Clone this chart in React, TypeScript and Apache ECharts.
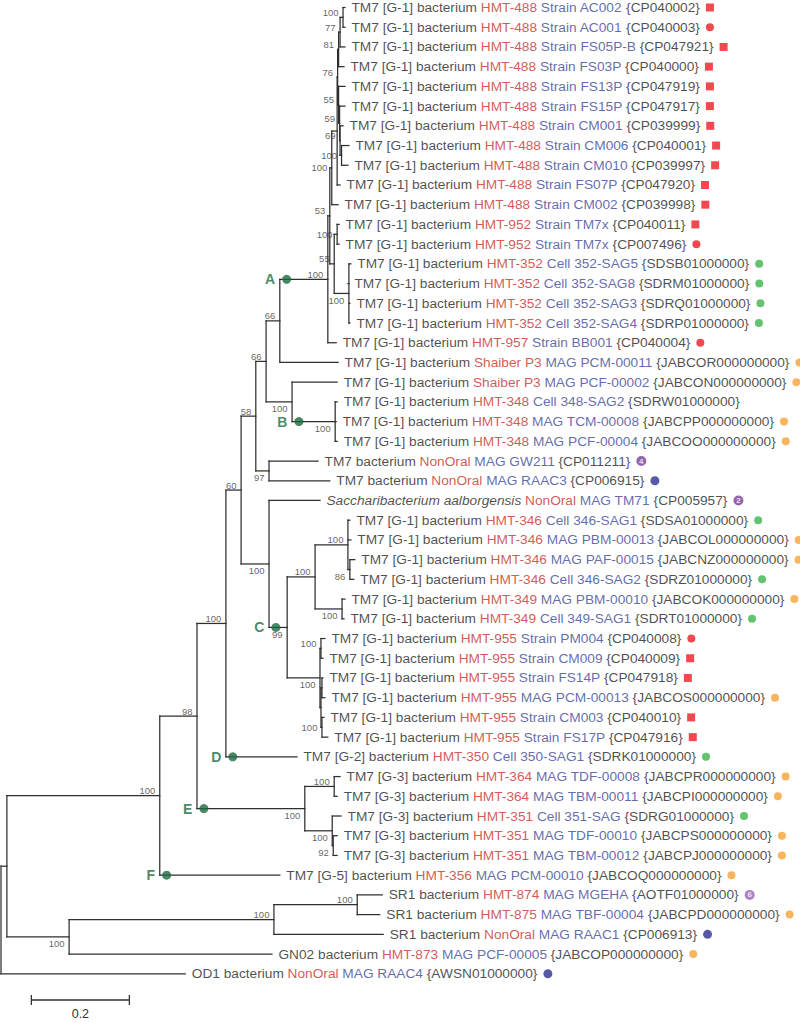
import React, { useEffect, useRef } from 'react';
import * as echarts from 'echarts';

// ---------- DATA ----------
// leaves, top to bottom: [organism, source, isolate, accession, marker, parentNode, tipDepth]
const leaves: [string, string, string, string, string, string, number][] = [
  ['TM7 [G-1] bacterium', 'HMT-488', 'Strain AC002', '{CP040002}', 'rs', 'P1', 0.702],
  ['TM7 [G-1] bacterium', 'HMT-488', 'Strain AC001', '{CP040003}', 'rc', 'P1', 0.702],
  ['TM7 [G-1] bacterium', 'HMT-488', 'Strain FS05P-B', '{CP047921}', 'rs', 'P2', 0.702],
  ['TM7 [G-1] bacterium', 'HMT-488', 'Strain FS03P', '{CP040000}', 'rs', 'P3', 0.700],
  ['TM7 [G-1] bacterium', 'HMT-488', 'Strain FS13P', '{CP047919}', 'rs', 'X3', 0.702],
  ['TM7 [G-1] bacterium', 'HMT-488', 'Strain FS15P', '{CP047917}', 'rs', 'X2', 0.702],
  ['TM7 [G-1] bacterium', 'HMT-488', 'Strain CM001', '{CP039999}', 'rs', 'X1', 0.698],
  ['TM7 [G-1] bacterium', 'HMT-488', 'Strain CM006', '{CP040001}', 'rs', 'R1', 0.710],
  ['TM7 [G-1] bacterium', 'HMT-488', 'Strain CM010', '{CP039997}', 'rs', 'R1', 0.708],
  ['TM7 [G-1] bacterium', 'HMT-488', 'Strain FS07P', '{CP047920}', 'rs', 'X5', 0.692],
  ['TM7 [G-1] bacterium', 'HMT-488', 'Strain CM002', '{CP039998}', 'rs', 'T', 0.688],
  ['TM7 [G-1] bacterium', 'HMT-952', 'Strain TM7x', '{CP040011}', 'rs', 'N337', 0.690],
  ['TM7 [G-1] bacterium', 'HMT-952', 'Strain TM7x', '{CP007496}', 'rc', 'N337', 0.690],
  ['TM7 [G-1] bacterium', 'HMT-352', 'Cell 352-SAG5', '{SDSB01000000}', 'g', 'N349', 0.714],
  ['TM7 [G-1] bacterium', 'HMT-352', 'Cell 352-SAG8', '{SDRM01000000}', 'g', 'N349', 0.708],
  ['TM7 [G-1] bacterium', 'HMT-352', 'Cell 352-SAG3', '{SDRQ01000000}', 'g', 'N349', 0.712],
  ['TM7 [G-1] bacterium', 'HMT-352', 'Cell 352-SAG4', '{SDRP01000000}', 'g', 'N349', 0.712],
  ['TM7 [G-1] bacterium', 'HMT-957', 'Strain BB001', '{CP040004}', 'rc', 'N329', 0.684],
  ['TM7 [G-1] bacterium', 'Shaiber P3', 'MAG PCM-00011', '{JABCOR000000000}', 'o', 'N280', 0.688],
  ['TM7 [G-1] bacterium', 'Shaiber P3', 'MAG PCF-00002', '{JABCON000000000}', 'o', 'N292', 0.686],
  ['TM7 [G-1] bacterium', 'HMT-348', 'Cell 348-SAG2', '{SDRW01000000}', '', 'B', 0.686],
  ['TM7 [G-1] bacterium', 'HMT-348', 'MAG TCM-00008', '{JABCPP000000000}', 'o', 'B', 0.684],
  ['TM7 [G-1] bacterium', 'HMT-348', 'MAG PCF-00004', '{JABCOO000000000}', 'o', 'B', 0.686],
  ['TM7 bacterium', 'NonOral', 'MAG GW211', '{CP011211}', 'p4', 'N269b', 0.647],
  ['TM7 bacterium', 'NonOral', 'MAG RAAC3', '{CP006915}', 'b', 'N269b', 0.671],
  ['Saccharibacterium aalborgensis', 'NonOral', 'MAG TM71', '{CP005957}', 'p2', 'N269', 0.651],
  ['TM7 [G-1] bacterium', 'HMT-346', 'Cell 346-SAG1', '{SDSA01000000}', 'g', 'N348', 0.712],
  ['TM7 [G-1] bacterium', 'HMT-346', 'MAG PBM-00013', '{JABCOL000000000}', 'o', 'N348', 0.714],
  ['TM7 [G-1] bacterium', 'HMT-346', 'MAG PAF-00015', '{JABCNZ000000000}', 'o', 'N350', 0.722],
  ['TM7 [G-1] bacterium', 'HMT-346', 'Cell 346-SAG2', '{SDRZ01000000}', 'g', 'N350', 0.720],
  ['TM7 [G-1] bacterium', 'HMT-349', 'MAG PBM-00010', '{JABCOK000000000}', 'o', 'N342', 0.702],
  ['TM7 [G-1] bacterium', 'HMT-349', 'Cell 349-SAG1', '{SDRT01000000}', 'g', 'N342', 0.700],
  ['TM7 [G-1] bacterium', 'HMT-955', 'Strain PM004', '{CP040008}', 'rc', 'Y1', 0.661],
  ['TM7 [G-1] bacterium', 'HMT-955', 'Strain CM009', '{CP040009}', 'rs', 'Y1', 0.657],
  ['TM7 [G-1] bacterium', 'HMT-955', 'Strain FS14P', '{CP047918}', 'rs', 'Z1', 0.657],
  ['TM7 [G-1] bacterium', 'HMT-955', 'MAG PCM-00013', '{JABCOS000000000}', 'o', 'Z1', 0.661],
  ['TM7 [G-1] bacterium', 'HMT-955', 'Strain CM003', '{CP040010}', 'rs', 'Z2', 0.659],
  ['TM7 [G-1] bacterium', 'HMT-955', 'Strain FS17P', '{CP047916}', 'rs', 'Z2', 0.667],
  ['TM7 [G-2] bacterium', 'HMT-350', 'Cell 350-SAG1', '{SDRK01000000}', 'g', 'N226', 0.604],
  ['TM7 [G-3] bacterium', 'HMT-364', 'MAG TDF-00008', '{JABCPR000000000}', 'o', 'N333', 0.692],
  ['TM7 [G-3] bacterium', 'HMT-364', 'MAG TBM-00011', '{JABCPI000000000}', 'o', 'N333', 0.686],
  ['TM7 [G-3] bacterium', 'HMT-351', 'Cell 351-SAG', '{SDRG01000000}', 'g', 'N332', 0.694],
  ['TM7 [G-3] bacterium', 'HMT-351', 'MAG TDF-00010', '{JABCPS000000000}', 'o', 'N333b', 0.686],
  ['TM7 [G-3] bacterium', 'HMT-351', 'MAG TBM-00012', '{JABCPJ000000000}', 'o', 'N333b', 0.686],
  ['TM7 [G-5] bacterium', 'HMT-356', 'MAG PCM-00010', '{JABCOQ000000000}', 'o', 'N160', 0.569],
  ['SR1 bacterium', 'HMT-874', 'MAG MGEHA', '{AOTF01000000}', 'p6', 'N357', 0.778],
  ['SR1 bacterium', 'HMT-875', 'MAG TBF-00004', '{JABCPD000000000}', 'o', 'N357', 0.773],
  ['SR1 bacterium', 'NonOral', 'MAG RAAC1', '{CP006913}', 'b', 'N274', 0.780],
  ['GN02 bacterium', 'HMT-873', 'MAG PCF-00005', '{JABCOP000000000}', 'o', 'N69', 0.553],
  ['OD1 bacterium', 'NonOral', 'MAG RAAC4', '{AWSN01000000}', 'b', 'R', 0.376],
];

// internal nodes: [id, parent, depth (subst./site), bootstrap]
const nodes: [string, string | null, number, string][] = [
  ['R', null, 0, ''],
  ['N7', 'R', 0.012, ''],
  ['N69', 'N7', 0.139, '100'],
  ['N274', 'N69', 0.557, '100'],
  ['N357', 'N274', 0.727, '100'],
  ['N160', 'N7', 0.324, '100'],
  ['N197', 'N160', 0.400, '98'],
  ['N226', 'N197', 0.459, '100'],
  ['N241', 'N226', 0.490, '60'],
  ['N256', 'N241', 0.520, '58'],
  ['N266', 'N256', 0.541, '66'],
  ['N280', 'N266', 0.569, '66'],
  ['N329', 'N280', 0.667, '100'],
  ['N330', 'N329', 0.671, '53'],
  ['T', 'N330', 0.675, '100'],
  ['X5', 'T', 0.686, ''],
  ['X4', 'X5', 0.687, '76'],
  ['P3', 'X4', 0.689, '81'],
  ['P2', 'P3', 0.692, '77'],
  ['P1', 'P2', 0.698, '100'],
  ['X3', 'X4', 0.689, '55'],
  ['X2', 'X3', 0.691, '59'],
  ['X1', 'X2', 0.692, '69'],
  ['R1', 'X1', 0.695, '100'],
  ['N335', 'N330', 0.680, '55'],
  ['N337', 'N335', 0.686, '100'],
  ['N349', 'N335', 0.710, '100'],
  ['N292', 'N266', 0.594, '100'],
  ['B', 'N292', 0.682, '100'],
  ['N269b', 'N256', 0.547, '97'],
  ['N269', 'N241', 0.547, '100'],
  ['N287', 'N269', 0.584, '99'],
  ['N315', 'N287', 0.641, '100'],
  ['N348', 'N315', 0.708, '100'],
  ['N350', 'N348', 0.712, '86'],
  ['N342', 'N315', 0.696, '100'],
  ['N320', 'N287', 0.651, '100'],
  ['Y1', 'N320', 0.653, '100'],
  ['Z', 'N320', 0.653, ''],
  ['Z1', 'Z', 0.655, ''],
  ['Z2', 'Z', 0.655, '100'],
  ['N305', 'N197', 0.620, '100'],
  ['N333', 'N305', 0.680, '100'],
  ['N332', 'N305', 0.676, '100'],
  ['N333b', 'N332', 0.678, '92'],
];

// clade letters: [letter, node whose stem carries the dot]
const clades: [string, string][] = [
  ['A', 'N329'], ['B', 'B'], ['C', 'N287'], ['D', 'L38'], ['E', 'N305'], ['F', 'L44'],
];

const italicOrganisms = ['Saccharibacterium aalborgensis'];
const scaleBar = { start: 0.062, length: 0.2, row: 50.33 };

// ---------- STYLE (label placement around nodes) ----------
const supportBelow = ['N69', 'N349', 'N292', 'B', 'N269b', 'N269', 'N287', 'N350', 'N342', 'N320', 'N305', 'N332', 'N333b'];
const supportMiddle = ['R1', 'N337', 'Z2', 'T'];
const FONT = '"Liberation Sans", Arial, Helvetica, sans-serif';
const GREEN = '#1b6a3e';
const CLEAR = 'rgba(0,0,0,0)';
const LEAF_FONT = 13.7;

function buildOption() {
  type N = { id: string; parent: string | null; depth: number; support: string; y?: number; children: string[] };
  const map: Record<string, N> = {};
  nodes.forEach(([id, parent, depth, support]) => { map[id] = { id, parent, depth, support, children: [] }; });
  leaves.forEach((l, i) => { map['L' + i] = { id: 'L' + i, parent: l[5], depth: l[6], support: '', y: i, children: [] }; });
  Object.values(map).forEach((n) => { if (n.parent) map[n.parent].children.push(n.id); });
  const layoutY = (id: string): number => {
    const n = map[id];
    if (n.y !== undefined) return n.y;
    const ys = n.children.map(layoutY);
    n.y = (Math.min(...ys) + Math.max(...ys)) / 2;
    return n.y;
  };
  layoutY('R');

  const edges: number[][] = [];
  Object.values(map).forEach((n) => {
    if (n.parent) edges.push([map[n.parent].depth, n.y!, n.depth, n.y!]);
    if (n.children.length) {
      const ys = n.children.map((c) => map[c].y!);
      edges.push([n.depth, Math.min(...ys), n.depth, Math.max(...ys)]);
    }
  });

  const txt = (size: number, color: string, extra: any = {}) => ({ fontSize: size, fontFamily: FONT, color, ...extra });
  const dot = (color: string, round: boolean, size = 8) => ({
    width: size, height: size, lineHeight: size, backgroundColor: color, borderRadius: round ? size / 2 : 0, fontSize: 1,
  });
  const circ = (color: string) => ({
    width: 10, height: 10, lineHeight: 10, backgroundColor: color, borderRadius: 5, color: '#fff',
    fontSize: 8, fontWeight: 'bold', align: 'center', fontFamily: FONT,
  });
  const rich: any = {
    k: txt(LEAF_FONT, '#1e1e1e'),
    i: txt(LEAF_FONT, '#1e1e1e', { fontStyle: 'italic' }),
    r: txt(LEAF_FONT, '#c62f2c'),
    u: txt(LEAF_FONT, '#3b4696'),
    gap: { width: 6, fontSize: 1 },
    rs: dot('#ec1c24', false),
    rc: dot('#ec1c24', true),
    g: dot('#3cb44b', true),
    o: dot('#f7a234', true),
    b: dot('#2e3192', true, 9),
    p4: circ('#7b3f98'),
    p2: circ('#7b3f98'),
    p6: circ('#9a62b8'),
  };

  const leafText = (i: number) => {
    const [org, src, iso, acc, mk] = leaves[i];
    const o = italicOrganisms.includes(org) ? `{i|${org}}` : `{k|${org}}`;
    const m = mk ? `{gap| }{${mk}|${mk.startsWith('p') ? mk.slice(1) : ' '}}` : '';
    return `${o} {r|${src}} {u|${iso}} ${acc}${m}`;
  };

  const supportData = nodes
    .filter((n) => n[3])
    .map(([id, , depth, support]) => ({
      value: [depth, map[id].y],
      name: support,
      label: { offset: [0, supportBelow.includes(id) ? 7 : supportMiddle.includes(id) ? 0 : -5] },
    }));

  const cladeData = clades.map(([letter, id]) => {
    const n = map[id];
    return { value: [map[n.parent!].depth + 0.014, n.y], name: letter };
  });

  return {
    animation: false,
    backgroundColor: '#ffffff',
    grid: { left: 1, right: 15, top: 7.5, bottom: 9.8 },
    xAxis: { type: 'value', min: 0, max: 1.6, show: false },
    yAxis: { type: 'value', min: 0, max: 51, inverse: true, show: false },
    series: [
      {
        type: 'custom',
        coordinateSystem: 'cartesian2d',
        clip: false,
        silent: true,
        data: edges,
        encode: { x: [0, 2], y: [1, 3] },
        renderItem: (_p: any, api: any) => {
          const a = api.coord([api.value(0), api.value(1)]);
          const b = api.coord([api.value(2), api.value(3)]);
          return {
            type: 'line',
            shape: { x1: a[0], y1: a[1], x2: b[0], y2: b[1] },
            style: { stroke: '#2f2f2f', lineWidth: 1.25, lineCap: 'square' },
          };
        },
      },
      {
        type: 'custom',
        coordinateSystem: 'cartesian2d',
        clip: false,
        silent: true,
        data: [[scaleBar.start, scaleBar.start + scaleBar.length, scaleBar.row]],
        renderItem: (_p: any, api: any) => {
          const a = api.coord([api.value(0), api.value(2)]);
          const b = api.coord([api.value(1), api.value(2)]);
          const st = { stroke: '#333333', lineWidth: 1.3 };
          return {
            type: 'group',
            children: [
              { type: 'line', shape: { x1: a[0], y1: a[1], x2: b[0], y2: b[1] }, style: st },
              { type: 'line', shape: { x1: a[0], y1: a[1] - 5, x2: a[0], y2: a[1] + 5 }, style: st },
              { type: 'line', shape: { x1: b[0], y1: b[1] - 5, x2: b[0], y2: b[1] + 5 }, style: st },
              {
                type: 'text',
                x: (a[0] + b[0]) / 2,
                y: a[1] + 14,
                style: {
                  text: String(scaleBar.length), fontSize: 12.5, fontFamily: FONT, fill: '#333333',
                  align: 'center', verticalAlign: 'middle',
                },
              },
            ],
          };
        },
      },
      {
        type: 'scatter',
        silent: true,
        symbolSize: 1,
        itemStyle: { color: CLEAR },
        data: leaves.map((l, i) => [l[6], i]),
        label: {
          show: true,
          position: 'right',
          distance: 6,
          fontSize: LEAF_FONT,
          fontFamily: FONT,
          color: '#1e1e1e',
          formatter: (p: any) => leafText(p.dataIndex),
          rich,
        },
      },
      {
        type: 'scatter',
        silent: true,
        symbolSize: 1,
        itemStyle: { color: CLEAR },
        data: supportData,
        label: {
          show: true,
          position: 'left',
          distance: 4,
          formatter: '{b}',
          fontSize: 9.5,
          fontFamily: FONT,
          color: '#3a3a3a',
        },
      },
      {
        type: 'scatter',
        silent: true,
        symbolSize: 9,
        itemStyle: { color: GREEN },
        data: cladeData,
        label: {
          show: true,
          position: 'left',
          distance: 7,
          formatter: '{b}',
          fontSize: 14,
          fontWeight: 'bold',
          fontFamily: FONT,
          color: GREEN,
        },
        z: 5,
      },
    ],
  };
}

export default function App() {
  const ref = useRef<HTMLDivElement>(null);
  useEffect(() => {
    const chart = echarts.init(ref.current!, null, { renderer: 'svg' });
    chart.setOption(buildOption() as any);
    return () => chart.dispose();
  }, []);
  return (
    <div
      ref={ref}
      style={{ position: 'absolute', left: 0, top: 0, width: 800, height: 1023, background: '#fff' }}
    />
  );
}
